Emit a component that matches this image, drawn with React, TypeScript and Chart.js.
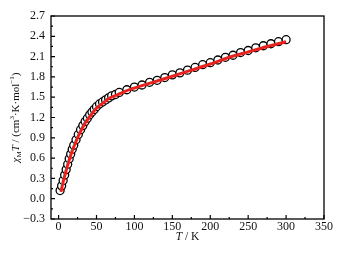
import React, { useEffect, useRef } from "react";
import { Chart, registerables } from "chart.js";

Chart.register(...registerables);

// Experimental data (open circles)
const expT = [2, 4, 6, 8, 10, 12, 14, 16, 18, 20, 23, 26, 29, 32, 35, 38, 41, 44, 47, 50, 54, 58, 62, 66, 70, 75, 80, 90, 100, 110, 120, 130, 140, 150, 160, 170, 180, 190, 200, 210, 220, 230, 240, 250, 260, 270, 280, 290, 300];
const expChiT = [0.12, 0.19, 0.27, 0.35, 0.43, 0.51, 0.59, 0.66, 0.73, 0.79, 0.87, 0.95, 1.02, 1.08, 1.14, 1.19, 1.24, 1.28, 1.32, 1.36, 1.4, 1.43, 1.46, 1.49, 1.52, 1.54, 1.57, 1.61, 1.65, 1.68, 1.72, 1.75, 1.79, 1.83, 1.86, 1.9, 1.94, 1.98, 2.01, 2.05, 2.09, 2.12, 2.16, 2.19, 2.23, 2.26, 2.29, 2.32, 2.35];

// Fit (red line)
const fitT = [3, 6, 9, 12, 15, 18, 22, 26, 30, 35, 40, 46, 52, 59, 66, 76, 86, 98, 115, 133, 150, 175, 200, 225, 250, 275, 300];
const fitChiT = [0.1, 0.25, 0.38, 0.5, 0.61, 0.71, 0.82, 0.93, 1.02, 1.12, 1.2, 1.29, 1.36, 1.42, 1.48, 1.53, 1.58, 1.63, 1.69, 1.75, 1.81, 1.9, 1.99, 2.09, 2.17, 2.25, 2.32];

const xTicks = [0, 50, 100, 150, 200, 250, 300, 350];
const xMinor = [25, 75, 125, 175, 225, 275, 325];
const yTicks = [-0.3, 0, 0.3, 0.6, 0.9, 1.2, 1.5, 1.8, 2.1, 2.4, 2.7];
const yMinor = [-0.15, 0.15, 0.45, 0.75, 1.05, 1.35, 1.65, 1.95, 2.25, 2.55];

const FONT = "'Liberation Serif', 'Times New Roman', serif";
const TEXT = "#111";

type Seg = { t: string; it?: boolean; sub?: boolean; sup?: boolean };
const yTitle: Seg[] = [
  { t: "χ", it: true },
  { t: "M", sub: true },
  { t: "T", it: true },
  { t: " / (cm" },
  { t: "3", sup: true },
  { t: "·K·mol" },
  { t: "−1", sup: true },
  { t: ")" },
];
const xTitle: Seg[] = [{ t: "T", it: true }, { t: " / K" }];

function drawRich(ctx: CanvasRenderingContext2D, segs: Seg[], size: number) {
  const fontFor = (s: Seg) => {
    const sz = s.sub || s.sup ? Math.round(size * 0.68) : size;
    return `${s.it ? "italic " : ""}${sz}px ${FONT}`;
  };
  let total = 0;
  const widths = segs.map((s) => {
    ctx.font = fontFor(s);
    const w = ctx.measureText(s.t).width;
    total += w;
    return w;
  });
  let x = -total / 2;
  ctx.textBaseline = "middle";
  ctx.textAlign = "left";
  segs.forEach((s, i) => {
    ctx.font = fontFor(s);
    let dy = 0;
    if (s.sub) dy = size * 0.3;
    if (s.sup) dy = -size * 0.35;
    ctx.fillText(s.t, x, dy);
    x += widths[i];
  });
}

const framePlugin = {
  id: "frame",
  afterDraw(chart: any) {
    const { ctx, chartArea } = chart;
    const xs = chart.scales.x;
    const ys = chart.scales.y;
    const { left, right, top, bottom } = chartArea;
    ctx.save();
    ctx.strokeStyle = "#000";
    ctx.lineWidth = 1.3;
    ctx.strokeRect(left, top, right - left, bottom - top);
    ctx.lineWidth = 1.2;
    ctx.beginPath();
    xTicks.forEach((v) => {
      const px = xs.getPixelForValue(v);
      ctx.moveTo(px, bottom);
      ctx.lineTo(px, bottom - 4);
    });
    xMinor.forEach((v) => {
      const px = xs.getPixelForValue(v);
      ctx.moveTo(px, bottom);
      ctx.lineTo(px, bottom - 2);
    });
    yTicks.forEach((v) => {
      const py = ys.getPixelForValue(v);
      ctx.moveTo(left, py);
      ctx.lineTo(left + 4, py);
    });
    yMinor.forEach((v) => {
      const py = ys.getPixelForValue(v);
      ctx.moveTo(left, py);
      ctx.lineTo(left + 2, py);
    });
    ctx.stroke();

    ctx.fillStyle = TEXT;
    ctx.save();
    ctx.translate((left + right) / 2, 237);
    drawRich(ctx, xTitle, 11.5);
    ctx.restore();
    ctx.save();
    ctx.translate(16, (top + bottom) / 2);
    ctx.rotate(-Math.PI / 2);
    drawRich(ctx, yTitle, 11);
    ctx.restore();
    ctx.restore();
  },
};

export default function App() {
  const ref = useRef<HTMLCanvasElement | null>(null);
  useEffect(() => {
    if (!ref.current) return;
    const chart = new Chart(ref.current, {
      type: "scatter",
      data: {
        datasets: [
          {
            label: "fit",
            data: fitT.map((t, i) => ({ x: t, y: fitChiT[i] })),
            showLine: true,
            borderColor: "#e8231f",
            borderWidth: 3,
            pointRadius: 0,
            tension: 0.3,
            order: 1,
          },
          {
            label: "exp",
            data: expT.map((t, i) => ({ x: t, y: expChiT[i] })),
            showLine: false,
            pointRadius: 4,
            pointBorderWidth: 1.3,
            pointBorderColor: "#000",
            pointBackgroundColor: "#fff",
            order: 2,
          },
        ],
      },
      options: {
        responsive: false,
        animation: false,
        layout: { padding: { top: 16, right: 22, left: 0, bottom: 0 } },
        plugins: { legend: { display: false }, tooltip: { enabled: false } },
        scales: {
          x: {
            type: "linear",
            min: -10,
            max: 350,
            grid: { display: false, drawTicks: false },
            border: { display: false },
            afterBuildTicks: (s: any) => {
              s.ticks = xTicks.map((v) => ({ value: v }));
            },
            afterFit: (s: any) => {
              s.height = 34;
            },
            ticks: {
              padding: 1,
              color: TEXT,
              font: { family: FONT, size: 12 },
              maxRotation: 0,
              callback: (v: any) => String(v),
            },
          },
          y: {
            type: "linear",
            min: -0.3,
            max: 2.7,
            grid: { display: false, drawTicks: false },
            border: { display: false },
            afterBuildTicks: (s: any) => {
              s.ticks = yTicks.map((v) => ({ value: v }));
            },
            afterFit: (s: any) => {
              s.width = 51;
            },
            ticks: {
              padding: 6,
              color: TEXT,
              font: { family: FONT, size: 12 },
              callback: (v: any) => Number(v).toFixed(1).replace("-", "−"),
            },
          },
        },
      },
      plugins: [framePlugin],
    });
    return () => chart.destroy();
  }, []);
  return (
    <div style={{ position: "absolute", left: 0, top: 0, width: 346, height: 253, background: "#fff" }}>
      <canvas ref={ref} width={346} height={253} />
    </div>
  );
}
